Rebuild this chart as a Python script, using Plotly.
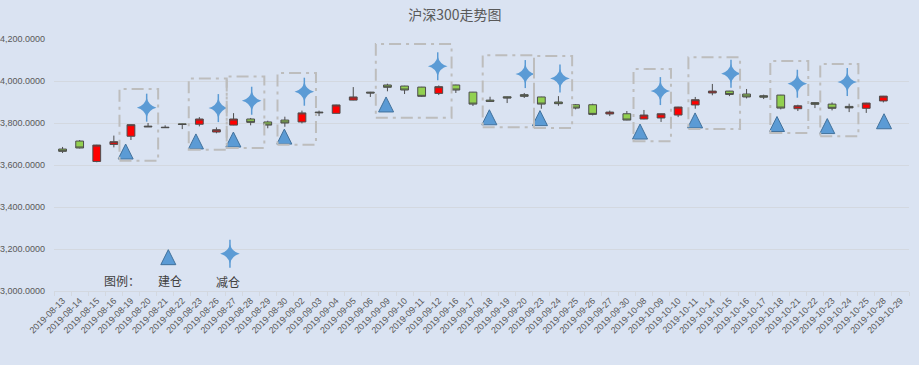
import plotly.graph_objects as go

# ---------------- data ----------------
dates = [
    "2019-08-13", "2019-08-14", "2019-08-15", "2019-08-16", "2019-08-19", "2019-08-20",
    "2019-08-21", "2019-08-22", "2019-08-23", "2019-08-26", "2019-08-27", "2019-08-28",
    "2019-08-29", "2019-08-30", "2019-09-02", "2019-09-03", "2019-09-04", "2019-09-05",
    "2019-09-06", "2019-09-09", "2019-09-10", "2019-09-11", "2019-09-12", "2019-09-16",
    "2019-09-17", "2019-09-18", "2019-09-19", "2019-09-20", "2019-09-23", "2019-09-24",
    "2019-09-25", "2019-09-26", "2019-09-27", "2019-09-30", "2019-10-08", "2019-10-09",
    "2019-10-10", "2019-10-11", "2019-10-14", "2019-10-15", "2019-10-16", "2019-10-17",
    "2019-10-18", "2019-10-21", "2019-10-22", "2019-10-23", "2019-10-24", "2019-10-25",
    "2019-10-28", "2019-10-29",
]
# OHLC (no candle drawn for the last date, 2019-10-29)
open_ = [3676, 3714, 3617, 3698, 3737, 3785, 3780, 3796, 3794, 3757,
         3790, 3819, 3805, 3814, 3805, 3852, 3846, 3909, 3947, 3981,
         3976, 3971, 3941, 3981, 3947, 3909, 3925, 3935, 3924, 3900,
         3887, 3887, 3843, 3844, 3819, 3824, 3838, 3886, 3943, 3952,
         3938, 3930, 3933, 3868, 3897, 3890, 3879, 3870, 3905]
high = [3686, 3719, 3696, 3740, 3793, 3800, 3789, 3797, 3828, 3779,
        3847, 3824, 3811, 3830, 3859, 3859, 3887, 3971, 3948, 3987,
        3977, 3972, 3979, 3982, 3948, 3925, 3926, 3943, 3925, 3928,
        3890, 3892, 3859, 3857, 3862, 3845, 3877, 3924, 3986, 3953,
        3962, 3935, 3934, 3887, 3898, 3898, 3892, 3896, 3929]
low = [3657, 3679, 3613, 3684, 3719, 3781, 3777, 3771, 3784, 3751,
       3789, 3789, 3775, 3782, 3798, 3833, 3845, 3908, 3924, 3951,
       3938, 3924, 3933, 3943, 3881, 3902, 3895, 3919, 3868, 3882,
       3865, 3836, 3833, 3813, 3818, 3805, 3828, 3868, 3932, 3928,
       3917, 3914, 3865, 3857, 3871, 3860, 3852, 3848, 3898]
close = [3665, 3681, 3695, 3711, 3792, 3782, 3778, 3793, 3819, 3768,
         3819, 3803, 3790, 3800, 3848, 3849, 3886, 3924, 3943, 3970,
         3957, 3927, 3973, 3957, 3890, 3903, 3919, 3927, 3890, 3892,
         3871, 3841, 3852, 3814, 3838, 3844, 3876, 3911, 3952, 3936,
         3924, 3923, 3871, 3882, 3889, 3870, 3872, 3895, 3928]

# 建仓 (build position) markers: category position, value at marker apex
buy_pos = [3.69, 7.80, 9.99, 12.97, 18.92, 24.96, 27.92, 33.77, 36.99, 41.78, 44.72, 48.04]
buy_val = [3700, 3748, 3757, 3771, 3924, 3863, 3859, 3795, 3848, 3831, 3821, 3844]
# 减仓 (reduce position) markers
sell_pos = [4.92, 9.11, 11.06, 14.14, 21.94, 27.06, 29.09, 34.96, 39.09, 42.97, 45.89]
sell_val = [3873, 3871, 3906, 3949, 4070, 4033, 4012, 3952, 4035, 3987, 3995]
# highlighted zones
zone_start = [3.33, 7.38, 9.60, 12.57, 18.32, 24.57, 27.57, 33.39, 36.60, 41.39, 44.31]
zone_end = [5.59, 9.60, 11.80, 14.82, 22.75, 27.57, 29.80, 35.58, 39.62, 43.61, 46.54]
zone_top = [3962, 4012, 4022, 4038, 4176, 4123, 4119, 4057, 4113, 4095, 4081]
zone_bottom = [3620, 3673, 3681, 3697, 3825, 3780, 3776, 3713, 3771, 3752, 3737]

title_text = "沪深300走势图"
legend_title = "图例："
legend_names = ["建仓", "减仓"]

# ---------------- styles ----------------
BG = "#DAE3F2"
GRID = "#D3D8E0"
TXT = "#595959"
BLUE = "#5B9BD5"
BLUE_EDGE = "#41719C"
CJK = "Noto Sans CJK SC"
LAT = "Liberation Sans"

fig = go.Figure()

fig.add_trace(go.Candlestick(
    x=list(range(len(open_))), open=open_, high=high, low=low, close=close,
    increasing=dict(fillcolor="#FF0000", line=dict(color="#4D4D4D", width=1)),
    decreasing=dict(fillcolor="#92D050", line=dict(color="#4D4D4D", width=1)),
    whiskerwidth=0, showlegend=False, hoverinfo="skip",
))

fig.add_trace(go.Scatter(
    x=buy_pos, y=buy_val, mode="markers", showlegend=False, hoverinfo="skip",
    marker=dict(symbol="arrow-up", size=15, color=BLUE, line=dict(color=BLUE_EDGE, width=1)),
))


def add_star(fig, xs, ys, xaxis="x", yaxis="y"):
    fig.add_trace(go.Scatter(
        x=xs, y=ys, mode="markers", showlegend=False, hoverinfo="skip",
        xaxis=xaxis, yaxis=yaxis,
        marker=dict(symbol="line-ns", size=20, color=BLUE, line=dict(color=BLUE, width=1.5)),
    ))
    fig.add_trace(go.Scatter(
        x=xs, y=ys, mode="markers", showlegend=False, hoverinfo="skip",
        xaxis=xaxis, yaxis=yaxis,
        marker=dict(symbol="star-diamond", size=14, color=BLUE, line=dict(width=0)),
    ))


add_star(fig, sell_pos, sell_val)

for x0, x1, y0, y1 in zip(zone_start, zone_end, zone_bottom, zone_top):
    fig.add_shape(type="rect", xref="x", yref="y", x0=x0, x1=x1, y0=y0, y1=y1,
                  line=dict(color="#BDBDBD", width=2, dash="12px,5px,3px,5px"),
                  fillcolor="rgba(0,0,0,0)")

# legend (drawn on an overlay axis spanning the plot area, 0..1)
fig.add_trace(go.Scatter(
    x=[0.1337], y=[0.164], mode="markers", showlegend=False, hoverinfo="skip",
    xaxis="x3", yaxis="y3",
    marker=dict(symbol="arrow-up", size=15, color=BLUE, line=dict(color=BLUE_EDGE, width=1)),
))
add_star(fig, [0.2058], [0.148], xaxis="x3", yaxis="y3")

ann = [
    dict(x=0.0795, y=0.041, text=legend_title),
    dict(x=0.1357, y=0.041, text=legend_names[0]),
    dict(x=0.2035, y=0.038, text=legend_names[1]),
]
for a in ann:
    fig.add_annotation(xref="paper", yref="paper", x=a["x"], y=a["y"], text=a["text"],
                       showarrow=False, xanchor="center", yanchor="middle",
                       font=dict(family=CJK, size=12, color="#404040"))

fig.update_layout(
    width=919, height=365,
    margin=dict(l=54, r=10, t=39, b=74, autoexpand=False),
    paper_bgcolor=BG, plot_bgcolor=BG,
    boxgap=0.35,
    title=dict(text=title_text, x=0.495, xref="container", y=1 - 15 / 365, yref="container",
               xanchor="center", yanchor="middle",
               font=dict(family=CJK, size=14, color=TXT)),
    xaxis=dict(
        range=[-0.5, len(dates) - 0.5], tickmode="array",
        tickvals=list(range(len(dates))), ticktext=dates, tickangle=-45,
        ticks="", showgrid=False, zeroline=False, showline=True, linecolor=GRID,
        tickfont=dict(family=LAT, size=9, color=TXT),
        minor=dict(tickmode="array", tickvals=[i - 0.5 for i in range(len(dates) + 1)],
                   ticks="outside", ticklen=4, tickcolor=GRID, showgrid=False),
        rangeslider=dict(visible=False), fixedrange=True, automargin=False,
    ),
    yaxis=dict(
        range=[3000, 4200], tick0=3000, dtick=200, tickformat=",.4f",
        showgrid=True, gridcolor=GRID, gridwidth=1, zeroline=False, showline=False,
        ticks="", ticklabelstandoff=8, fixedrange=True,
        tickfont=dict(family=LAT, size=9, color=TXT), automargin=False,
    ),
    xaxis3=dict(overlaying="x", range=[0, 1], visible=False, fixedrange=True),
    yaxis3=dict(overlaying="y", range=[0, 1], visible=False, fixedrange=True),
)

fig.write_html(
    "out.html",
    config={"displayModeBar": False, "staticPlot": True},
    post_script="document.body.style.margin='0';document.body.style.padding='0';"
                "document.body.style.background='" + BG + "';",
)
